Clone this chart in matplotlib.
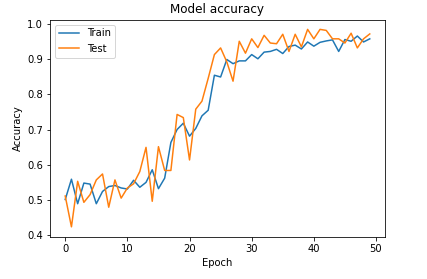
import matplotlib
matplotlib.use("Agg")
import matplotlib.pyplot as plt

epochs = list(range(50))
train_acc = [0.500, 0.558, 0.488, 0.547, 0.544, 0.488, 0.523, 0.537, 0.540, 0.533,
             0.530, 0.555, 0.535, 0.549, 0.585, 0.531, 0.561, 0.663, 0.700, 0.718,
             0.681, 0.703, 0.739, 0.755, 0.855, 0.850, 0.900, 0.888, 0.896, 0.896,
             0.914, 0.902, 0.921, 0.923, 0.929, 0.917, 0.937, 0.941, 0.930, 0.950,
             0.938, 0.949, 0.953, 0.956, 0.923, 0.957, 0.952, 0.967, 0.950, 0.959]
test_acc = [0.510, 0.422, 0.552, 0.492, 0.514, 0.556, 0.573, 0.478, 0.556, 0.504,
            0.533, 0.545, 0.580, 0.649, 0.495, 0.651, 0.583, 0.583, 0.743, 0.734,
            0.613, 0.758, 0.781, 0.846, 0.914, 0.933, 0.893, 0.838, 0.952, 0.918,
            0.959, 0.934, 0.969, 0.947, 0.945, 0.972, 0.923, 0.972, 0.936, 0.986,
            0.959, 0.986, 0.983, 0.959, 0.959, 0.947, 0.975, 0.933, 0.959, 0.973]

fig = plt.figure(figsize=(427/72, 279/72), dpi=72)
ax = fig.add_axes([50/427, 1 - 236.7/279, (385 - 50)/427, (236.7 - 19.5)/279])
ax.plot(epochs, train_acc, label="Train")
ax.plot(epochs, test_acc, label="Test")
ax.set_title("Model accuracy")
ax.set_xlabel("Epoch")
ax.set_ylabel("Accuracy")
ax.legend(loc="upper left")
fig.savefig("out.png", dpi=72)
